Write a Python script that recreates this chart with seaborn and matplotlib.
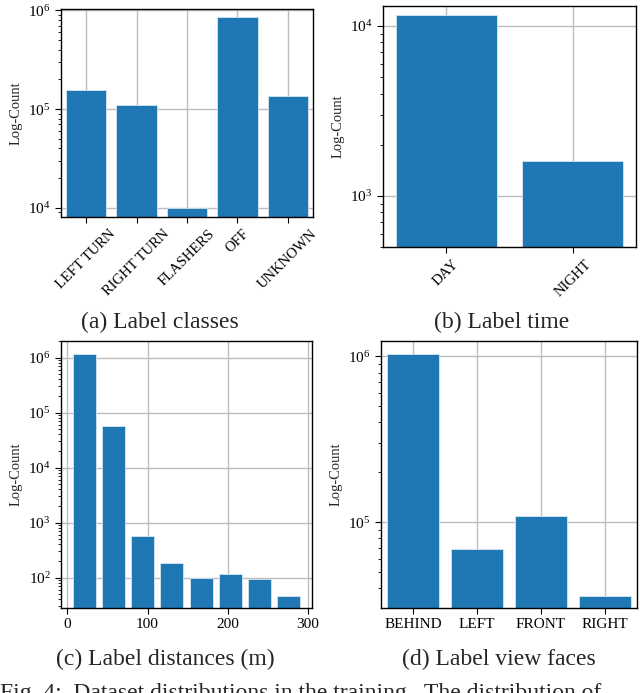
import matplotlib
matplotlib.use("Agg")
import matplotlib.pyplot as plt
import numpy as np
import pandas as pd
import seaborn as sns

# Data
class_names = ["LEFT TURN", "RIGHT TURN", "FLASHERS", "OFF", "UNKNOWN"]
class_counts = [1.55e5, 1.1e5, 1.0e4, 8.5e5, 1.35e5]

time_names = ["DAY", "NIGHT"]
time_counts = [1.16e4, 1.61e3]

dist_centers = [21, 57, 94, 130, 167, 203, 239, 276]
dist_counts = [1.18e6, 5.7e4, 580, 187, 97, 117, 93, 46]

face_names = ["BEHIND", "LEFT", "FRONT", "RIGHT"]
face_counts = [1.04e6, 6.9e4, 1.09e5, 3.57e4]

# Style
sns.set_style("whitegrid", {
	"axes.edgecolor": "black",
	"xtick.bottom": True,
	"ytick.left": True,
	"xtick.color": "black",
	"ytick.color": "black",
	"grid.color": "#bdbdbd",
})
plt.rcParams["font.family"] = ["Liberation Serif", "DejaVu Serif"]
plt.rcParams["mathtext.fontset"] = "stix"
plt.rcParams["axes.linewidth"] = 1.0
plt.rcParams["xtick.major.size"] = 4
plt.rcParams["ytick.major.size"] = 4
plt.rcParams["ytick.minor.size"] = 2
plt.rcParams["ytick.minor.visible"] = True
plt.rcParams["grid.linewidth"] = 1.0
blue = "#1f77b4"
tick_fs = 11
cap_fs = 17

W, H = 640, 693
fig = plt.figure(figsize=(6.4, 6.93), dpi=100)

def add_ax(left, right, top, bottom):
	return fig.add_axes([left / W, (H - bottom) / H, (right - left) / W, (bottom - top) / H])

def style_ax(ax, ylim):
	ax.set_yscale("log")
	ax.set_ylim(*ylim)
	ax.set_ylabel("Log-Count", fontsize=10.5)
	ax.set_xlabel("")
	ax.tick_params(axis="both", labelsize=tick_fs)
	ax.tick_params(axis="y", which="minor", left=True)
	ax.set_axisbelow(True)

# (a) classes
ax_a = add_ax(61, 313, 9, 217)
df_a = pd.DataFrame({"label": class_names, "count": class_counts})
sns.barplot(data=df_a, x="label", y="count", color=blue, saturation=1,
	edgecolor="#d6e6f2", linewidth=0.6, ax=ax_a)
style_ax(ax_a, (8.1e3, 1.03e6))
ax_a.tick_params(axis="x", rotation=45, labelsize=10.5)

# (b) time
ax_b = add_ax(383, 636, 6, 247)
df_b = pd.DataFrame({"label": time_names, "count": time_counts})
sns.barplot(data=df_b, x="label", y="count", color=blue, saturation=1,
	edgecolor="#d6e6f2", linewidth=0.6, ax=ax_b)
style_ax(ax_b, (500, 1.31e4))
ax_b.tick_params(axis="x", rotation=45, labelsize=10.5)

# (c) distances
ax_c = add_ax(61, 312, 341, 608)
df_c = pd.DataFrame({"dist": dist_centers, "count": dist_counts})
sns.barplot(data=df_c, x="dist", y="count", color=blue, saturation=1,
	native_scale=True, edgecolor="#d6e6f2", linewidth=0.6, ax=ax_c)
style_ax(ax_c, (28, 2.0e6))
ax_c.set_xticks([0, 100, 200, 300])
ax_c.set_xlim(-8, 305)

# (d) view faces
ax_d = add_ax(381, 637, 341, 608)
df_d = pd.DataFrame({"label": face_names, "count": face_counts})
sns.barplot(data=df_d, x="label", y="count", color=blue, saturation=1,
	edgecolor="#d6e6f2", linewidth=0.6, ax=ax_d)
style_ax(ax_d, (3.04e4, 1.24e6))

for ax in [ax_a, ax_b, ax_d]:
	ax.xaxis.grid(True)

# Captions
fig.text(160 / W, 1 - 322 / H, "(a) Label classes", fontsize=cap_fs, ha="center", va="center")
fig.text(502 / W, 1 - 322 / H, "(b) Label time", fontsize=cap_fs, ha="center", va="center")
fig.text(165 / W, 1 - 659 / H, "(c) Label distances (m)", fontsize=cap_fs, ha="center", va="center")
fig.text(499 / W, 1 - 659 / H, "(d) Label view faces", fontsize=cap_fs, ha="center", va="center")
fig.text(0.0, -6 / H, "Fig. 4:  Dataset distributions in the training.  The distribution of",
	fontsize=cap_fs, ha="left", va="baseline")

fig.savefig("out.png", dpi=100)
